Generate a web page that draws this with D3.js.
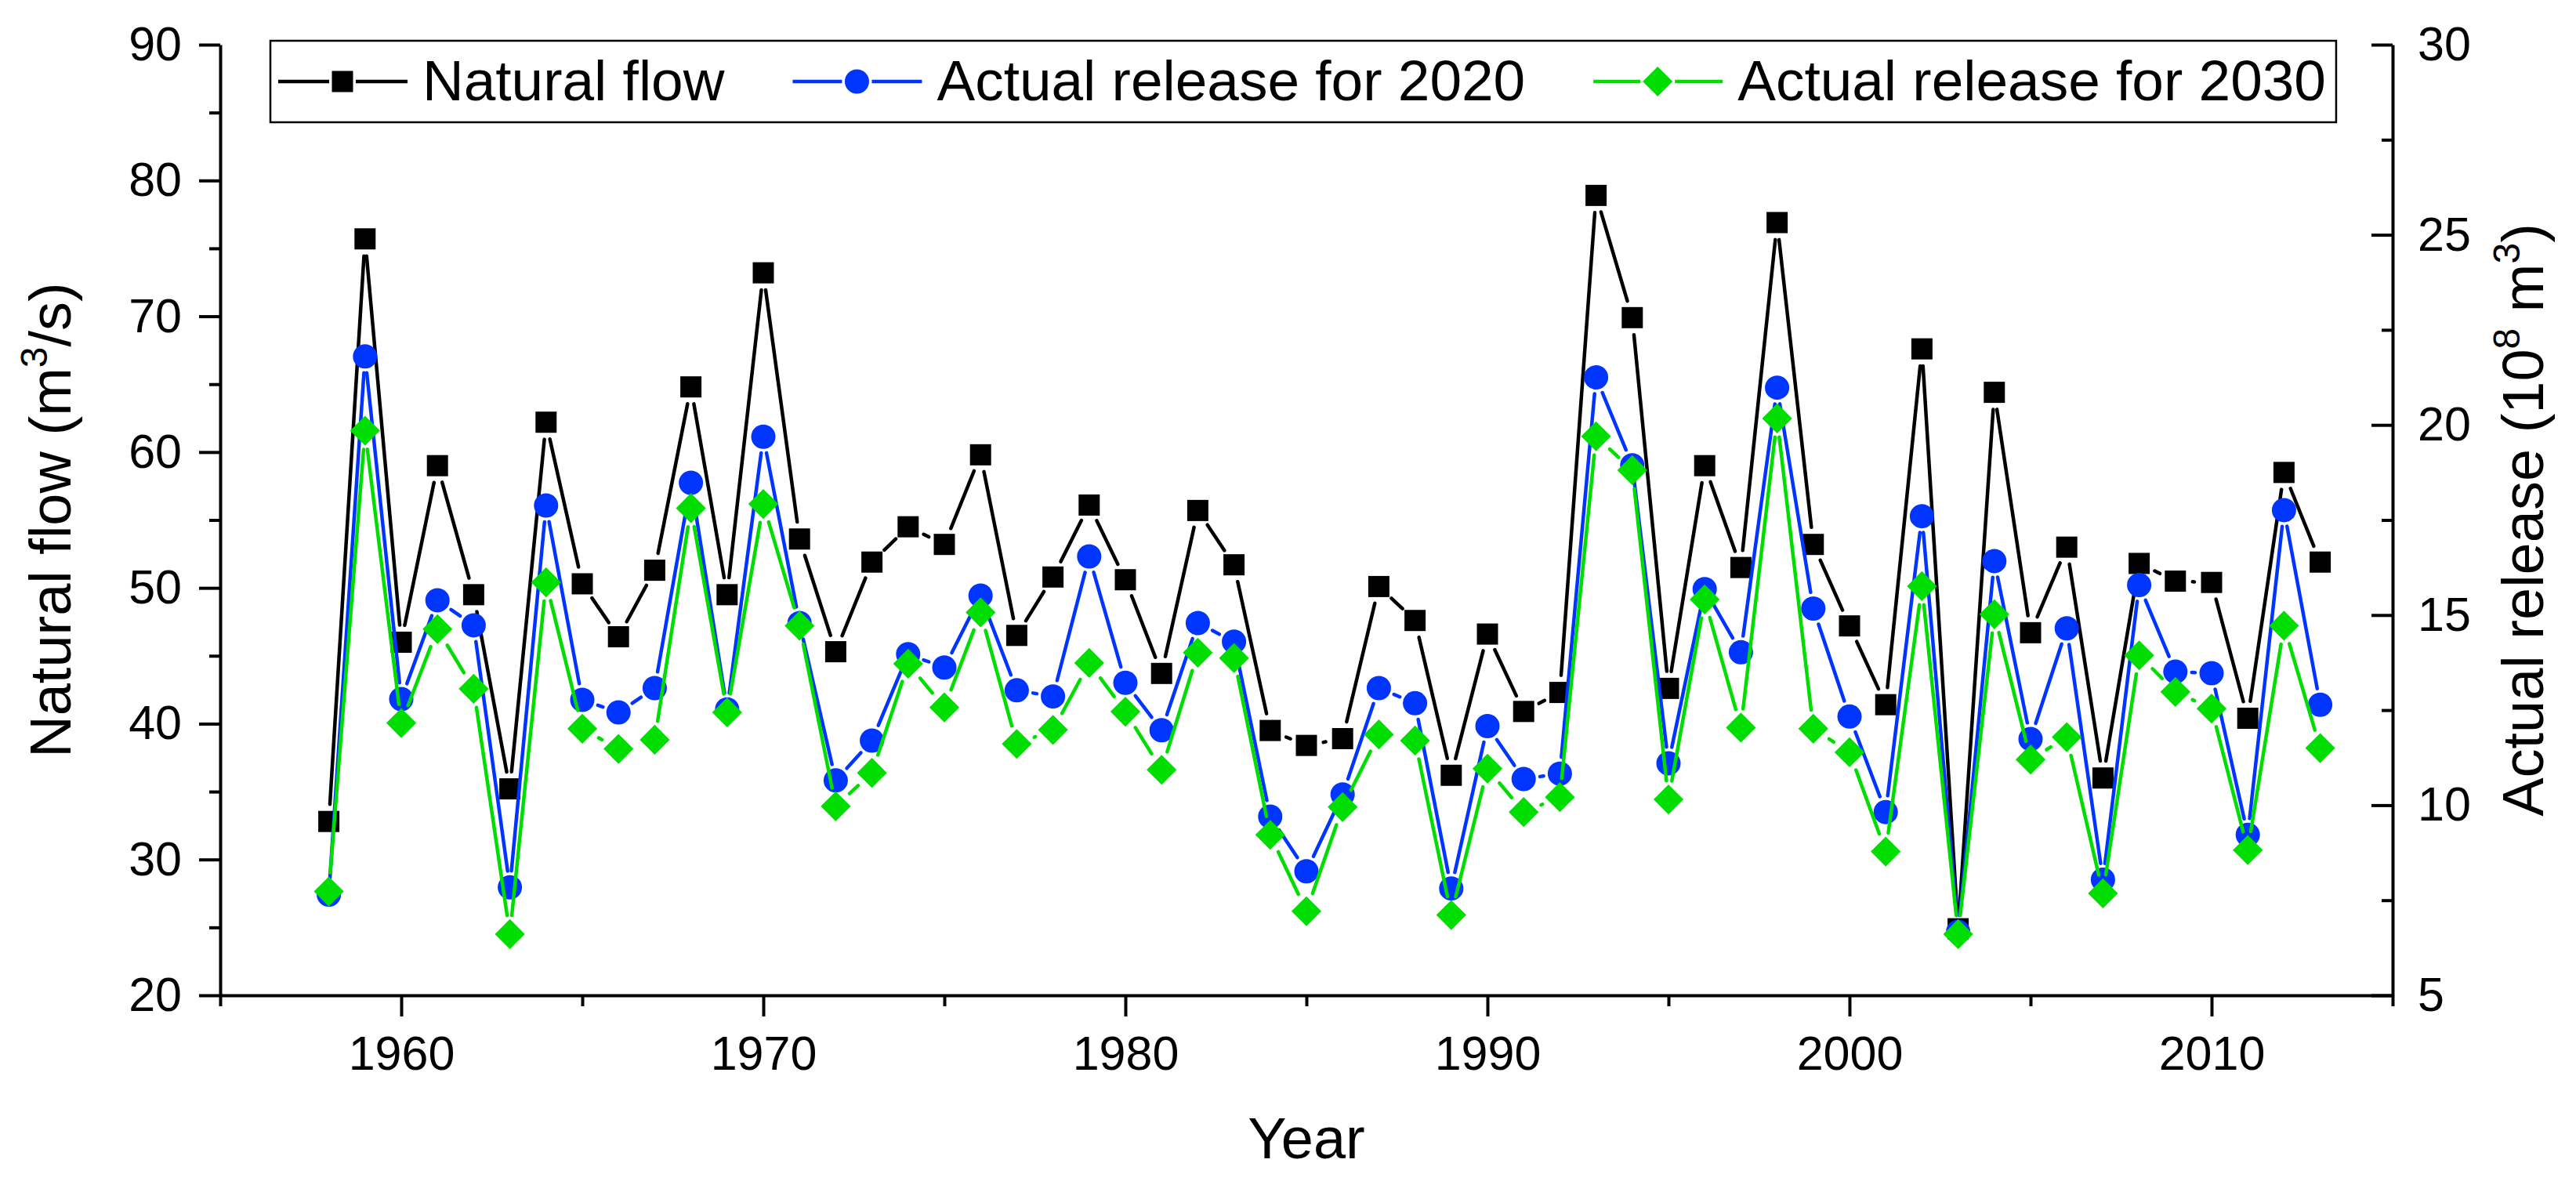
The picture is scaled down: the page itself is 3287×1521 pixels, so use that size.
<!DOCTYPE html>
<html><head><meta charset="utf-8">
<script src="https://cdn.jsdelivr.net/npm/d3@7"></script>
<style>
html,body{margin:0;padding:0;background:#fff;}
svg{display:block;font-family:"Liberation Sans",Arial,sans-serif;}
</style></head><body>
<svg id="chart" width="3287" height="1521"></svg>
<script>
// ---------- data ----------
const years = [1958,1959,1960,1961,1962,1963,1964,1965,1966,1967,
  1968,1969,1970,1971,1972,1973,1974,1975,1976,1977,
  1978,1979,1980,1981,1982,1983,1984,1985,1986,1987,
  1988,1989,1990,1991,1992,1993,1994,1995,1996,1997,
  1998,1999,2000,2001,2002,2003,2004,2005,2006,2007,
  2008,2009,2010,2011,2012,2013];
// Natural flow (m3/s) - left axis
const naturalFlow = [32.8,75.7,46.0,59.0,49.5,35.2,62.2,50.3,46.4,51.3,
  64.8,49.5,73.2,53.6,45.3,51.9,54.5,53.2,59.8,46.5,
  50.8,56.1,50.6,43.7,55.7,51.7,39.5,38.4,38.9,50.1,
  47.6,36.2,46.6,40.9,42.3,78.9,69.9,42.6,59.0,51.5,
  76.9,53.2,47.2,41.4,67.6,24.9,64.4,46.7,53.0,36.0,
  51.8,50.5,50.4,40.4,58.5,51.9];
// Actual release for 2020 (10^8 m3) - right axis
const release2020 = [7.65,21.8,12.79,15.39,14.73,7.84,17.88,12.77,12.44,13.08,
  18.48,12.52,19.69,14.79,10.65,11.70,13.97,13.62,15.51,13.02,
  12.86,16.54,13.22,11.97,14.79,14.30,9.70,8.26,10.28,13.08,
  12.68,7.81,12.08,10.69,10.83,21.25,18.94,11.10,15.68,14.02,
  20.98,15.17,12.33,9.82,17.60,6.67,16.42,11.74,14.65,8.04,
  15.79,13.51,13.47,9.22,17.76,12.64];
// Actual release for 2030 (10^8 m3) - right axis
const release2030 = [7.73,19.85,12.16,14.63,13.06,6.61,15.86,12.01,11.48,11.72,
  17.81,12.44,17.92,14.72,9.97,10.85,13.72,12.57,15.07,11.61,
  11.98,13.74,12.46,10.93,14.01,13.87,9.22,7.21,9.95,11.86,
  11.70,7.11,10.96,9.82,10.21,19.70,18.81,10.15,15.41,12.04,
  20.17,12.01,11.39,8.78,15.76,6.61,15.02,11.20,11.79,7.68,
  13.94,12.98,12.54,8.82,14.72,11.50];

const xTicks = [1960,1970,1980,1990,2000,2010];
const xMinorTicks = [1955,1965,1975,1985,1995,2005,2015];
const leftTicks = [20,30,40,50,60,70,80,90];
const leftMinorTicks = [25,35,45,55,65,75,85];
const rightTicks = [5,10,15,20,25,30];
const rightMinorTicks = [7.5,12.5,17.5,22.5,27.5];
const seriesNames = ["Natural flow","Actual release for 2020","Actual release for 2030"];
const seriesColors = ["#000000","#0035FF","#00DD00"];

// ---------- layout ----------
const svg = d3.select("#chart");
const L = 281, R = 3053, T = 57, B = 1270;
const x = d3.scaleLinear().domain([1955, 2015]).range([L, R]);
const yL = d3.scaleLinear().domain([20, 90]).range([B, T]);
const yR = d3.scaleLinear().domain([5, 30]).range([B, T]);

const tickFont = 61, titleFont = 74, legendFont = 73, axisW = 4;

function styleAxis(g, fontSize) {
  g.selectAll("path.domain").attr("stroke", "#000").attr("stroke-width", axisW);
  g.selectAll(".tick line").attr("stroke", "#000").attr("stroke-width", axisW);
  g.selectAll(".tick text").attr("font-size", fontSize).attr("fill", "#000")
    .attr("font-family", '"Liberation Sans",Arial,sans-serif');
}

// bottom axis
const gx = svg.append("g").attr("transform", `translate(0,${B})`)
  .call(d3.axisBottom(x).tickValues(xTicks).tickFormat(d3.format("d"))
    .tickSize(27).tickSizeOuter(0).tickPadding(25));
styleAxis(gx, tickFont);
const gxm = svg.append("g").attr("transform", `translate(0,${B})`)
  .call(d3.axisBottom(x).tickValues(xMinorTicks).tickFormat("").tickSize(14).tickSizeOuter(0));
gxm.select("path.domain").remove();
styleAxis(gxm, tickFont);

// left axis
const gl = svg.append("g").attr("transform", `translate(${L},0)`)
  .call(d3.axisLeft(yL).tickValues(leftTicks).tickFormat(d3.format("d"))
    .tickSize(27).tickSizeOuter(0).tickPadding(22));
styleAxis(gl, tickFont);
const glm = svg.append("g").attr("transform", `translate(${L},0)`)
  .call(d3.axisLeft(yL).tickValues(leftMinorTicks).tickFormat("").tickSize(14).tickSizeOuter(0));
glm.select("path.domain").remove();
styleAxis(glm, tickFont);

// right axis (ticks point inward)
const gr = svg.append("g").attr("transform", `translate(${R},0)`)
  .call(d3.axisRight(yR).tickValues(rightTicks).tickFormat(d3.format("d"))
    .tickSize(-27).tickSizeOuter(0).tickPadding(32));
styleAxis(gr, tickFont);
const grm = svg.append("g").attr("transform", `translate(${R},0)`)
  .call(d3.axisRight(yR).tickValues(rightMinorTicks).tickFormat("").tickSize(-14).tickSizeOuter(0));
grm.select("path.domain").remove();
styleAxis(grm, tickFont);

// axis titles
svg.append("text").attr("x", (L + R) / 2).attr("y", 1478)
  .attr("text-anchor", "middle").attr("font-size", titleFont).text("Year");

const lt = svg.append("text")
  .attr("transform", `translate(90,${(T + B) / 2}) rotate(-90)`)
  .attr("text-anchor", "middle").attr("font-size", titleFont);
lt.append("tspan").text("Natural flow (m");
lt.append("tspan").attr("font-size", 48).attr("dy", -30).text("3");
lt.append("tspan").attr("dy", 30).text("/s)");

const rt = svg.append("text")
  .attr("transform", `translate(3245,${(T + B) / 2}) rotate(-90)`)
  .attr("text-anchor", "middle").attr("font-size", titleFont);
rt.append("tspan").text("Actual release (10");
rt.append("tspan").attr("font-size", 48).attr("dy", -30).text("8");
rt.append("tspan").attr("dy", 30).text(" m");
rt.append("tspan").attr("font-size", 48).attr("dy", -30).text("3");
rt.append("tspan").attr("dy", 30).text(")");

// ---------- series ----------
const markerDefs = [
  { type: d3.symbolSquare, size: 27 * 27, rot: 0, gap: 22, lgap: 17 },
  { type: d3.symbolCircle, size: Math.PI * 15.5 * 15.5, rot: 0, gap: 21, lgap: 19 },
  { type: d3.symbolSquare, size: 27 * 27, rot: 45, gap: 24, lgap: 22 }
];
const seriesData = [
  { vals: naturalFlow, y: yL },
  { vals: release2020, y: yR },
  { vals: release2030, y: yR }
];

function gapSegments(vals, yScale, gap) {
  const pts = years.map((yr, i) => [x(yr), yScale(vals[i])]);
  const segs = [];
  for (let i = 0; i < pts.length - 1; i++) {
    const [x1, y1] = pts[i], [x2, y2] = pts[i + 1];
    const dx = x2 - x1, dy = y2 - y1, d = Math.hypot(dx, dy);
    if (d <= 2 * gap) continue;
    const ux = dx / d, uy = dy / d;
    segs.push([x1 + ux * gap, y1 + uy * gap, x2 - ux * gap, y2 - uy * gap]);
  }
  return segs;
}

seriesData.forEach((s, k) => {
  const g = svg.append("g");
  const m = markerDefs[k];
  g.selectAll("line").data(gapSegments(s.vals, s.y, m.gap)).join("line")
    .attr("x1", d => d[0]).attr("y1", d => d[1])
    .attr("x2", d => d[2]).attr("y2", d => d[3])
    .attr("stroke", seriesColors[k]).attr("stroke-width", 4.5)
    .attr("stroke-linecap", "round");
  const sym = d3.symbol().type(m.type).size(m.size);
  g.selectAll("path.mk").data(s.vals).join("path").attr("class", "mk")
    .attr("d", sym)
    .attr("transform", (v, i) => `translate(${x(years[i])},${s.y(v)}) rotate(${m.rot})`)
    .attr("fill", seriesColors[k]);
});

// ---------- legend ----------
const legTop = 52, legH = 104, legMid = 104, legX = 345;
const legG = svg.append("g");
const box = legG.append("rect").attr("x", legX).attr("y", legTop).attr("height", legH)
  .attr("fill", "#fff").attr("stroke", "#000").attr("stroke-width", 2.5);
let cx = 355;
seriesNames.forEach((name, k) => {
  const m = markerDefs[k];
  const mx = cx + 82;
  legG.append("line").attr("x1", cx).attr("x2", mx - m.lgap).attr("y1", legMid).attr("y2", legMid)
    .attr("stroke", seriesColors[k]).attr("stroke-width", 4.5);
  legG.append("line").attr("x1", mx + m.lgap).attr("x2", cx + 165).attr("y1", legMid).attr("y2", legMid)
    .attr("stroke", seriesColors[k]).attr("stroke-width", 4.5);
  legG.append("path").attr("d", d3.symbol().type(m.type).size(m.size))
    .attr("transform", `translate(${mx},${legMid}) rotate(${m.rot})`).attr("fill", seriesColors[k]);
  const t = legG.append("text").attr("x", cx + 184).attr("y", 128)
    .attr("font-size", legendFont).text(name);
  const w = t.node().getComputedTextLength();
  cx = cx + 184 + w + 87;
  if (k === seriesNames.length - 1) box.attr("width", cx - 87 + 13 - legX);
});
</script>
</body></html>
